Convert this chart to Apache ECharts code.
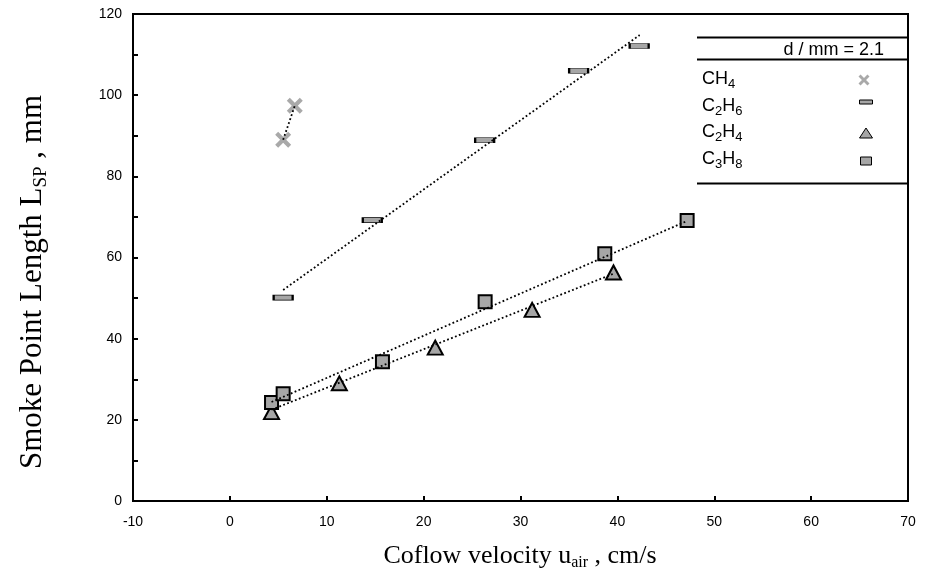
<!DOCTYPE html>
<html>
<head>
<meta charset="utf-8">
<script src="https://cdn.jsdelivr.net/npm/echarts@6/dist/echarts.min.js"></script>
<style>html,body{margin:0;padding:0;background:#fff}#c{width:930px;height:579px}</style>
</head>
<body>
<div id="c"></div>
<script>
// ---- data ----
const ch4 = [[5.5, 89.0], [6.7, 97.4]];
const c2h6 = [[5.5, 50.1], [14.7, 69.2], [26.3, 88.9], [36.0, 106.0], [42.25, 112.1]];
const c2h4 = [[4.3, 21.9], [11.3, 29.0], [21.2, 37.8], [31.2, 47.1], [39.6, 56.3]];
const c3h8 = [[4.3, 24.3], [5.5, 26.4], [15.75, 34.3], [26.35, 49.1], [38.7, 60.9], [47.2, 69.1]];
const c2h6Fit = [[5.5, 52.0], [42.3, 114.8]];
const c2h4Fit = [[4.3, 22.5], [39.6, 56.0]];
const c3h8Fit = [[4.3, 24.4], [47.2, 69.0]];
const seriesNames = ['CH4', 'C2H6', 'C2H4', 'C3H8'];
const legendLabels = [
  '{m|CH}{s|4}',
  '{m|C}{s|2}{m|H}{s|6}',
  '{m|C}{s|2}{m|H}{s|4}',
  '{m|C}{s|3}{m|H}{s|8}'
];
const legendHeader = 'd / mm = 2.1';
const xMin = -10, xMax = 70, xStep = 10;
const yMin = 0, yMax = 120, yStep = 20;

const GRAY = '#a6a6a6';
const XPATH = 'path://M3,0 L8,5 L13,0 L16,3 L11,8 L16,13 L13,16 L8,11 L3,16 L0,13 L5,8 L0,3 Z';
const chart = echarts.init(document.getElementById('c'), null, {renderer: 'canvas'});

const dotted = {color: '#000', width: 1.8, type: [1.8, 2.4]};
function fitLine(data, name) {
  return {type: 'line', name: name, data: data, showSymbol: false, symbol: 'none',
    lineStyle: dotted, z: 5, silent: true, animation: false};
}

const subX = {fontFamily: 'Liberation Serif', fontSize: 16, padding: [14, 0, 0, 0], lineHeight: 16};
const mainX = {fontFamily: 'Liberation Serif', fontSize: 26, lineHeight: 30};
const subY = {fontFamily: 'Liberation Serif', fontSize: 19, padding: [16, 0, 0, 0], lineHeight: 19};
const mainY = {fontFamily: 'Liberation Serif', fontSize: 31, lineHeight: 34};
const mLeg = {fontFamily: 'Liberation Sans', fontSize: 18, lineHeight: 20};
const sLeg = {fontFamily: 'Liberation Sans', fontSize: 13, lineHeight: 13, padding: [10, 0, 0, 0]};

const legX = 702, legIconX = 866;
const legRows = [79, 106, 132, 159];
function xPoly(cx, cy, s) {
  const k = s / 16;
  const pts = [[3,0],[8,5],[13,0],[16,3],[11,8],[16,13],[13,16],[8,11],[3,16],[0,13],[5,8],[0,3]];
  return pts.map(p => [cx + (p[0] - 8) * k, cy + (p[1] - 8) * k]);
}
const legIcons = [
  {type: 'polygon', shape: {points: xPoly(legIconX - 2, 80, 11)}, style: {fill: '#a9a9a9'}},
  {type: 'rect', shape: {x: legIconX - 6.5, y: 100, width: 13, height: 4}, style: {fill: GRAY, stroke: '#000', lineWidth: 1}},
  {type: 'polygon', shape: {points: [[legIconX, 128], [legIconX + 6.5, 138], [legIconX - 6.5, 138]]}, style: {fill: GRAY, stroke: '#000', lineWidth: 1}},
  {type: 'rect', shape: {x: legIconX - 5.5, y: 157, width: 11, height: 8}, style: {fill: GRAY, stroke: '#000', lineWidth: 1}}
];

const graphics = [
  {type: 'line', shape: {x1: 697, y1: 37.5, x2: 908, y2: 37.5}, style: {stroke: '#000', lineWidth: 2}},
  {type: 'line', shape: {x1: 697, y1: 59.5, x2: 908, y2: 59.5}, style: {stroke: '#000', lineWidth: 2}},
  {type: 'line', shape: {x1: 697, y1: 183.5, x2: 908, y2: 183.5}, style: {stroke: '#000', lineWidth: 2}},
  {type: 'text', x: 884, y: 50, style: {text: legendHeader, fontFamily: 'Liberation Sans', fontSize: 18, fill: '#000', textAlign: 'right', textVerticalAlign: 'middle'}},
  {type: 'text', x: 520, y: 556,
    style: {text: '{m|Coflow velocity u}{s|air}{m| , cm/s}', rich: {m: mainX, s: subX}, fill: '#000', textAlign: 'center', textVerticalAlign: 'middle'}},
  {type: 'text', x: 33, y: 282, rotation: Math.PI / 2,
    style: {text: '{m|Smoke Point Length L}{s|SP}{m| , mm}', rich: {m: mainY, s: subY}, fill: '#000', textAlign: 'center', textVerticalAlign: 'middle'}}
];
legendLabels.forEach((t, i) => {
  graphics.push({type: 'text', x: legX, y: legRows[i],
    style: {text: t, rich: {m: mLeg, s: sLeg}, fill: '#000', textAlign: 'left', textVerticalAlign: 'middle'}});
  graphics.push(legIcons[i]);
});

const option = {
  animation: false,
  backgroundColor: '#fff',
  grid: {left: 133, right: 22, top: 14, bottom: 78, show: true, borderColor: '#000', borderWidth: 2, containLabel: false},
  xAxis: {
    type: 'value', min: xMin, max: xMax, interval: xStep,
    axisLine: {show: true, onZero: false, lineStyle: {color: '#000', width: 2}},
    axisTick: {show: true, inside: true, length: 5, lineStyle: {color: '#000', width: 2}},
    axisLabel: {color: '#000', fontFamily: 'Liberation Sans', fontSize: 14, margin: 14},
    splitLine: {show: false}
  },
  yAxis: {
    type: 'value', min: yMin, max: yMax, interval: yStep,
    axisLine: {show: true, onZero: false, lineStyle: {color: '#000', width: 2}},
    axisTick: {show: true, inside: true, length: 5, lineStyle: {color: '#000', width: 2}},
    minorTick: {show: true, splitNumber: 2, length: 5, lineStyle: {color: '#000', width: 2}},
    axisLabel: {color: '#000', fontFamily: 'Liberation Sans', fontSize: 14, margin: 11},
    splitLine: {show: false}
  },
  graphic: graphics,
  series: [
    {type: 'scatter', name: seriesNames[0], data: ch4, symbol: XPATH, symbolSize: 16,
      itemStyle: {color: '#a9a9a9', opacity: 1}, z: 3},
    {type: 'scatter', name: seriesNames[1], data: c2h6, symbol: 'rect', symbolSize: [19, 5],
      itemStyle: {color: GRAY, borderColor: '#000', borderWidth: 1.2, opacity: 1}, z: 3},
    {type: 'scatter', name: seriesNames[2], data: c2h4, symbol: 'triangle', symbolSize: [15, 14],
      itemStyle: {color: GRAY, borderColor: '#000', borderWidth: 2, opacity: 1}, z: 3},
    {type: 'scatter', name: seriesNames[3], data: c3h8, symbol: 'rect', symbolSize: 13,
      itemStyle: {color: GRAY, borderColor: '#000', borderWidth: 2, opacity: 1}, z: 3},
    fitLine(ch4, 'CH4 fit'),
    fitLine(c2h6Fit, 'C2H6 fit'),
    fitLine(c2h4Fit, 'C2H4 fit'),
    fitLine(c3h8Fit, 'C3H8 fit')
  ]
};
chart.setOption(option);
</script>
</body>
</html>
